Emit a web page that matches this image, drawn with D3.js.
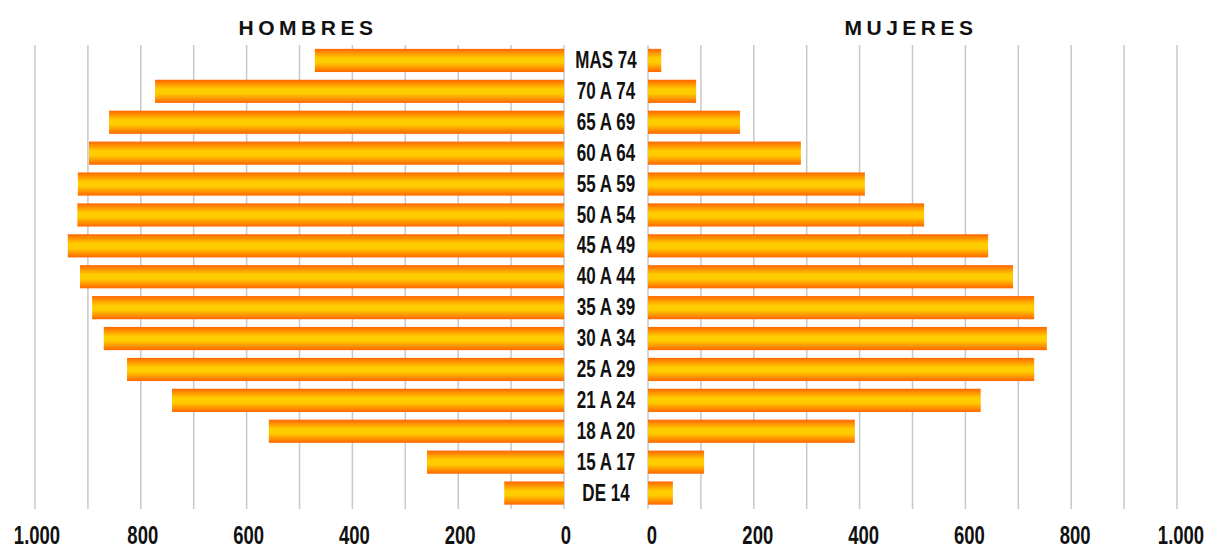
<!DOCTYPE html>
<html>
<head>
<meta charset="utf-8">
<script src="https://cdn.jsdelivr.net/npm/d3@7"></script>
<style>
  body { margin: 0; background: #fff; }
  svg { display: block; }
</style>
</head>
<body>
<svg id="chart" width="1211" height="550"></svg>
<script>
// age groups, top to bottom
var grupos = ["MAS 74", "70 A 74", "65 A 69", "60 A 64", "55 A 59", "50 A 54", "45 A 49",
  "40 A 44", "35 A 39", "30 A 34", "25 A 29", "21 A 24", "18 A 20", "15 A 17", "DE 14"];
var hombres = [471, 773, 860, 898, 919, 920, 938, 915, 892, 870, 826, 741, 558, 259, 113];
var mujeres = [25, 91, 174, 289, 410, 522, 643, 690, 730, 754, 730, 629, 391, 106, 47];
var tickValues = [0, 200, 400, 600, 800, 1000];

var svg = d3.select("#chart");
var font = "'Liberation Sans', Arial, sans-serif";
var squeeze = 0.74; // no narrow font installed, so condense by hand

var es = d3.formatLocale({ decimal: ",", thousands: ".", grouping: [3], currency: ["", "€"] });
var fmt = es.format(",");

var xLeft = d3.scaleLinear().domain([0, 1000]).range([564, 35]);
var xRight = d3.scaleLinear().domain([0, 1000]).range([648, 1177]);
var y = d3.scaleBand().domain(grupos).range([45, 508.5]).paddingInner(0.25).paddingOuter(0.125);

// gradient: orange edges, yellow middle
var grad = svg.append("defs").append("linearGradient")
  .attr("id", "barGrad").attr("x1", 0).attr("y1", 0).attr("x2", 0).attr("y2", 1);
grad.append("stop").attr("offset", "0%").attr("stop-color", "#ff6600");
grad.append("stop").attr("offset", "40%").attr("stop-color", "#ffcc00");
grad.append("stop").attr("offset", "60%").attr("stop-color", "#ffcc00");
grad.append("stop").attr("offset", "100%").attr("stop-color", "#ff6600");

// gridlines
[xLeft, xRight].forEach(function (x) {
  svg.append("g")
    .selectAll("line")
    .data(x.ticks(10))
    .enter().append("line")
    .attr("x1", d => x(d)).attr("x2", d => x(d))
    .attr("y1", 45).attr("y2", 509)
    .attr("stroke", "#c8c8c8")
    .attr("stroke-width", 1.5);
});

// bars
svg.append("g").selectAll("rect")
  .data(grupos)
  .enter().append("rect")
  .attr("x", (d, i) => xLeft(hombres[i]))
  .attr("width", (d, i) => xLeft(0) - xLeft(hombres[i]))
  .attr("y", d => y(d))
  .attr("height", y.bandwidth())
  .attr("fill", "url(#barGrad)");

svg.append("g").selectAll("rect")
  .data(grupos)
  .enter().append("rect")
  .attr("x", xRight(0))
  .attr("width", (d, i) => xRight(mujeres[i]) - xRight(0))
  .attr("y", d => y(d))
  .attr("height", y.bandwidth())
  .attr("fill", "url(#barGrad)");

// age labels in the middle
svg.append("g").selectAll("text")
  .data(grupos)
  .enter().append("text")
  .attr("transform", d => "translate(606," + (y(d) + y.bandwidth() / 2) + ") scale(" + squeeze + ",1)")
  .attr("dy", "0.33em")
  .attr("text-anchor", "middle")
  .style("font-family", font)
  .style("font-weight", "bold")
  .style("font-size", "23px")
  .attr("fill", "#111")
  .text(d => d);

// tick labels
function tickLabels(x, shift) {
  svg.append("g").selectAll("text")
    .data(tickValues)
    .enter().append("text")
    .attr("transform", d => "translate(" + (x(d) + shift) + ",544) scale(" + squeeze + ",1)")
    .attr("text-anchor", "middle")
    .style("font-family", font)
    .style("font-weight", "bold")
    .style("font-size", "25px")
    .attr("fill", "#111")
    .text(d => fmt(d));
}
tickLabels(xLeft, 2);
tickLabels(xRight, 4);

// titles
function title(x, txt) {
  svg.append("text")
    .attr("x", x).attr("y", 35)
    .attr("text-anchor", "middle")
    .style("font-family", font)
    .style("font-weight", "bold")
    .style("font-size", "21px")
    .style("letter-spacing", "4.5px")
    .attr("fill", "#111")
    .text(txt);
}
title(308, "HOMBRES");
title(911, "MUJERES");
</script>
</body>
</html>
